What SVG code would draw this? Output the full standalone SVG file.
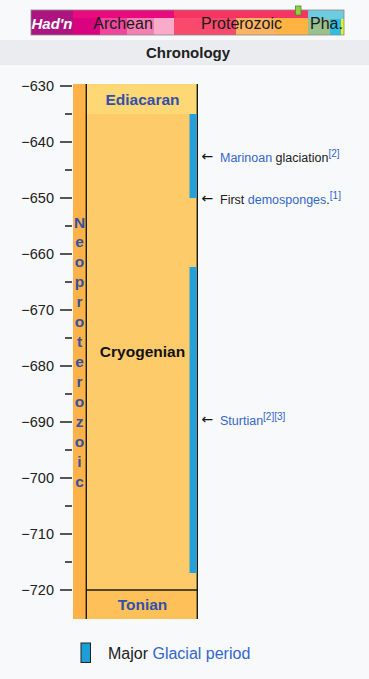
<svg xmlns="http://www.w3.org/2000/svg" width="369" height="679" viewBox="0 0 369 679">
<style>
text{font-family:"Liberation Sans",Arial,Helvetica,sans-serif;}
.tick{stroke:#111;stroke-width:1.4;}
.lbl{font-size:14.5px;fill:#202122;text-anchor:end;}
.period{font-size:15.5px;font-weight:bold;fill:#3450a8;text-anchor:middle;}
.neo{font-size:15.5px;font-weight:bold;fill:#3450a8;text-anchor:middle;}
.ann{font-size:12.5px;fill:#202122;}
.arr{font-family:"DejaVu Sans",sans-serif;font-size:14px;fill:#111;}
.link{fill:#3366cc;}
.sup{font-size:10px;fill:#3366cc;}
.glac{fill:#27a0d9;}
.eon{font-size:16px;fill:#1a1a1a;}
.border{stroke:#1a1a1a;stroke-width:1.4;}
</style>
<rect x="0" y="0" width="369" height="679" fill="#f8f9fa"/>

<g id="eon-bar">
<rect x="31" y="10" width="42" height="25" fill="#ae1480"/>
<rect x="73" y="10" width="101" height="8" fill="#e90a7d"/>
<rect x="73" y="18" width="27" height="17" fill="#da037f"/>
<rect x="100" y="18" width="27" height="17" fill="#f0479c"/>
<rect x="127" y="18" width="27" height="17" fill="#f57fb2"/>
<rect x="154" y="18" width="20" height="17" fill="#f9abc9"/>
<rect x="174" y="10" width="134" height="8" fill="#f73563"/>
<rect x="174" y="18" width="62" height="17" fill="#f74a6c"/>
<rect x="236" y="18" width="40" height="17" fill="#fdb462"/>
<rect x="276" y="18" width="32" height="17" fill="#feb342"/>
<rect x="308" y="10" width="36" height="9" fill="#6fcbe0"/>
<rect x="308" y="19" width="22" height="16" fill="#99c08d"/>
<rect x="330" y="19" width="11" height="16" fill="#30bde3"/>
<rect x="341" y="19" width="3" height="16" fill="#e8f01d"/>
<rect x="31" y="10" width="313" height="25" fill="none" stroke="#8a8a8a" stroke-width="0.8"/>
<text x="52" y="28.5" font-size="15px" font-weight="bold" font-style="italic" fill="#ffffff" text-anchor="middle">Had'n</text>
<text x="123" y="28.5" class="eon" text-anchor="middle">Archean</text>
<text x="241.5" y="28.5" class="eon" text-anchor="middle">Proterozoic</text>
<text x="326.5" y="28.5" class="eon" text-anchor="middle">Pha.</text>
<rect x="295.5" y="6" width="5.5" height="9" fill="#8fd040" stroke="#4a8d25" stroke-width="0.8"/>
</g>

<g id="header">
<rect x="0" y="40" width="369" height="25" fill="#eaecf0"/>
<text x="188" y="57.5" font-size="15px" font-weight="bold" fill="#202122" text-anchor="middle">Chronology</text>
</g>

<g id="axis">
<line class="tick" x1="60" y1="86" x2="72" y2="86"/>
<line class="tick" x1="60" y1="142" x2="72" y2="142"/>
<line class="tick" x1="60" y1="198" x2="72" y2="198"/>
<line class="tick" x1="60" y1="254" x2="72" y2="254"/>
<line class="tick" x1="60" y1="310" x2="72" y2="310"/>
<line class="tick" x1="60" y1="366" x2="72" y2="366"/>
<line class="tick" x1="60" y1="422" x2="72" y2="422"/>
<line class="tick" x1="60" y1="478" x2="72" y2="478"/>
<line class="tick" x1="60" y1="534" x2="72" y2="534"/>
<line class="tick" x1="60" y1="590" x2="72" y2="590"/>
<line class="tick" x1="65" y1="114" x2="72" y2="114"/>
<line class="tick" x1="65" y1="170" x2="72" y2="170"/>
<line class="tick" x1="65" y1="226" x2="72" y2="226"/>
<line class="tick" x1="65" y1="282" x2="72" y2="282"/>
<line class="tick" x1="65" y1="338" x2="72" y2="338"/>
<line class="tick" x1="65" y1="394" x2="72" y2="394"/>
<line class="tick" x1="65" y1="450" x2="72" y2="450"/>
<line class="tick" x1="65" y1="506" x2="72" y2="506"/>
<line class="tick" x1="65" y1="562" x2="72" y2="562"/>
<text class="lbl" x="54" y="91">−630</text>
<text class="lbl" x="54" y="147">−640</text>
<text class="lbl" x="54" y="203">−650</text>
<text class="lbl" x="54" y="259">−660</text>
<text class="lbl" x="54" y="315">−670</text>
<text class="lbl" x="54" y="371">−680</text>
<text class="lbl" x="54" y="427">−690</text>
<text class="lbl" x="54" y="483">−700</text>
<text class="lbl" x="54" y="539">−710</text>
<text class="lbl" x="54" y="595">−720</text>
</g>

<g id="neoproterozoic">
<rect x="73" y="84" width="13" height="535" fill="#feb247"/>
<text class="neo" x="79.5" y="227.5">N</text>
<text class="neo" x="79.5" y="247">e</text>
<text class="neo" x="79.5" y="267">o</text>
<text class="neo" x="79.5" y="287">p</text>
<text class="neo" x="79.5" y="307">r</text>
<text class="neo" x="79.5" y="327">o</text>
<text class="neo" x="79.5" y="347">t</text>
<text class="neo" x="79.5" y="367">e</text>
<text class="neo" x="79.5" y="387">r</text>
<text class="neo" x="79.5" y="407">o</text>
<text class="neo" x="79.5" y="427">z</text>
<text class="neo" x="79.5" y="447">o</text>
<text class="neo" x="79.5" y="467">i</text>
<text class="neo" x="79.5" y="487">c</text>
</g>

<g id="ediacaran">
<rect x="86" y="84" width="111.5" height="30" fill="#fed874"/>
<text class="period" x="142.5" y="104.5">Ediacaran</text>
</g>

<g id="cryogenian">
<rect x="86" y="114" width="111.5" height="476" fill="#fecb6a"/>
<text x="142.5" y="357" font-size="15.5px" font-weight="bold" fill="#111" text-anchor="middle">Cryogenian</text>
</g>

<g id="tonian">
<rect x="86" y="590" width="111.5" height="29" fill="#fec15a"/>
<text class="period" x="142.5" y="609.5">Tonian</text>
</g>

<g id="column-borders">
<line class="border" x1="86.3" y1="84" x2="86.3" y2="619"/>
<line class="border" x1="197.3" y1="84" x2="197.3" y2="619"/>
<line class="border" x1="86" y1="590" x2="197.5" y2="590"/>
</g>

<g id="marinoan-bar">
<rect class="glac" x="189.5" y="114" width="7.2" height="84"/>
</g>
<g id="sturtian-bar">
<rect class="glac" x="189.5" y="267" width="7.2" height="306"/>
</g>

<g id="connectors">
<text class="arr" x="201.5" y="161">←</text>
<text class="arr" x="201.5" y="202.5">←</text>
<text class="arr" x="201.5" y="423.5">←</text>
</g>

<g id="marinoan-label">
<text class="ann" x="220" y="162"><tspan class="link">Marinoan</tspan> glaciation<tspan class="sup" dy="-5">[2]</tspan></text>
</g>
<g id="demosponges-label">
<text class="ann" x="220" y="203.5">First <tspan class="link">demosponges</tspan>.<tspan class="sup" dy="-5">[1]</tspan></text>
</g>
<g id="sturtian-label">
<text class="ann" x="220" y="424.5"><tspan class="link">Sturtian</tspan><tspan class="sup" dy="-5">[2][3]</tspan></text>
</g>

<g id="legend">
<rect x="81" y="643" width="9.5" height="19.5" fill="#1e9ed7" stroke="#222" stroke-width="1"/>
<text x="108" y="659" font-size="16px" fill="#202122">Major <tspan fill="#3366cc">Glacial period</tspan></text>
</g>
</svg>
